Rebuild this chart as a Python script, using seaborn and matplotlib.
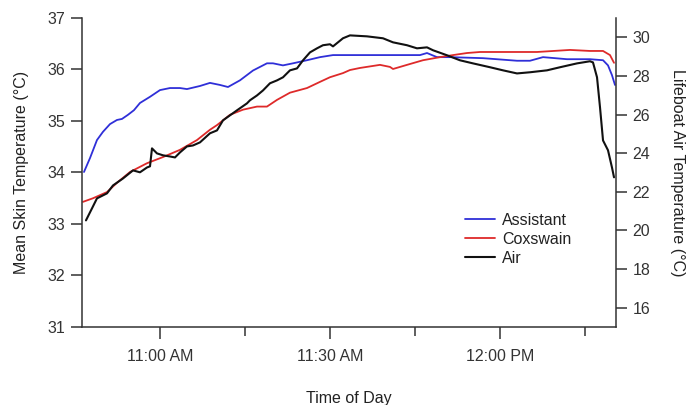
import matplotlib
matplotlib.use("Agg")
import matplotlib.pyplot as plt
import seaborn as sns
import pandas as pd

# ---- data (minutes after 11:00 AM) ----
assistant_t = [-13.41, -12.35, -11.12, -10.06, -8.82, -7.59, -6.71, -5.65, -4.59, -3.53,
               -1.76, 0.0, 1.76, 3.53, 4.76, 7.06, 8.82, 10.59, 12.0, 14.12,
               16.41, 18.88, 19.94, 21.70, 23.47, 25.94, 28.24, 30.53, 33.0, 38.82,
               45.88, 47.12, 48.88, 51.18, 57.0, 63.0, 65.29, 67.59, 71.82, 75.88,
               78.18, 79.06, 79.76, 80.29]
assistant_v = [34.01, 34.28, 34.63, 34.79, 34.94, 35.02, 35.04, 35.12, 35.21, 35.35,
               35.47, 35.60, 35.64, 35.64, 35.62, 35.68, 35.74, 35.70, 35.66, 35.79,
               35.98, 36.12, 36.12, 36.08, 36.12, 36.18, 36.24, 36.28, 36.28, 36.28,
               36.28, 36.32, 36.24, 36.24, 36.22, 36.17, 36.17, 36.24, 36.20, 36.20,
               36.18, 36.08, 35.89, 35.70]

coxswain_t = [-13.59, -11.82, -9.35, -7.59, -5.29, -2.29, 0.53, 3.53, 6.53, 8.82,
              10.06, 12.35, 14.65, 17.12, 18.88, 20.65, 22.94, 25.94, 28.24, 30.0,
              32.29, 33.53, 35.29, 38.82, 40.59, 41.12, 43.59, 46.41, 49.41, 51.71,
              54.18, 56.47, 60.53, 66.53, 72.35, 75.88, 78.18, 79.41, 80.12]
coxswain_v = [33.43, 33.50, 33.62, 33.80, 34.01, 34.18, 34.30, 34.44, 34.63, 34.83,
              34.92, 35.12, 35.22, 35.28, 35.28, 35.41, 35.55, 35.64, 35.76, 35.85,
              35.93, 35.99, 36.03, 36.09, 36.05, 36.01, 36.09, 36.18, 36.24, 36.28,
              36.32, 36.34, 36.34, 36.34, 36.38, 36.36, 36.36, 36.28, 36.13]

air_t = [-13.06, -12.0, -11.12, -9.35, -8.29, -6.53, -4.76, -3.53, -2.29, -1.76,
         -1.41, -0.53, 0.53, 1.76, 2.65, 3.53, 4.76, 5.82, 7.06, 8.82,
         10.06, 11.12, 12.35, 13.59, 15.35, 15.88, 17.12, 18.18, 19.41, 20.65,
         21.71, 22.94, 24.18, 25.24, 26.47, 27.71, 28.76, 30.0, 30.53, 32.29,
         33.53, 36.53, 39.35, 41.12, 43.59, 45.35, 47.12, 48.18, 50.65, 52.94,
         55.24, 58.24, 60.53, 63.0, 65.29, 68.29, 70.59, 73.59, 75.88, 76.41,
         77.12, 77.65, 78.18, 79.06, 79.76, 80.12]
air_v = [20.52, 21.14, 21.66, 21.92, 22.33, 22.69, 23.11, 23.01, 23.26, 23.32,
         24.25, 23.99, 23.89, 23.83, 23.78, 24.04, 24.35, 24.40, 24.56, 25.03,
         25.18, 25.70, 25.96, 26.22, 26.58, 26.74, 26.99, 27.25, 27.62, 27.77,
         27.93, 28.29, 28.39, 28.81, 29.22, 29.43, 29.59, 29.64, 29.53, 29.95,
         30.10, 30.05, 29.95, 29.74, 29.59, 29.43, 29.48, 29.33, 29.07, 28.81,
         28.65, 28.45, 28.29, 28.13, 28.19, 28.29, 28.45, 28.65, 28.76, 28.70,
         27.93, 26.37, 24.66, 24.15, 23.26, 22.75]

x_major_ticks = [0, 30, 60]
x_major_labels = ["11:00 AM", "11:30 AM", "12:00 PM"]
x_minor_ticks = [15, 45, 75]
left_ticks = [31, 32, 33, 34, 35, 36, 37]
right_ticks = [16, 18, 20, 22, 24, 26, 28, 30]

series_names = ["Assistant", "Coxswain", "Air"]
colors = {"Assistant": "#2f2fd8", "Coxswain": "#de2a2a", "Air": "#111111"}

df_a = pd.DataFrame({"t": assistant_t, "v": assistant_v})
df_c = pd.DataFrame({"t": coxswain_t, "v": coxswain_v})
df_air = pd.DataFrame({"t": air_t, "v": air_v})

FS = 11.5

# ---- style ----
sns.set_style("ticks")
plt.rcParams["font.family"] = ["Liberation Sans", "DejaVu Sans"]
plt.rcParams["font.size"] = FS
plt.rcParams["axes.linewidth"] = 1.1
plt.rcParams["text.color"] = "#222222"
plt.rcParams["axes.labelcolor"] = "#222222"
plt.rcParams["xtick.color"] = "#333333"
plt.rcParams["ytick.color"] = "#333333"
plt.rcParams["axes.edgecolor"] = "#333333"

fig = plt.figure(figsize=(6.97, 4.05), dpi=100)
ax = fig.add_axes([82 / 697, 1 - 327 / 405, (616 - 82) / 697, (327 - 18) / 405])
ax2 = ax.twinx()

sns.lineplot(data=df_a, x="t", y="v", ax=ax, color=colors["Assistant"], lw=1.3,
             estimator=None, label=series_names[0], legend=False)
sns.lineplot(data=df_c, x="t", y="v", ax=ax, color=colors["Coxswain"], lw=1.3,
             estimator=None, label=series_names[1], legend=False)
sns.lineplot(data=df_air, x="t", y="v", ax=ax2, color=colors["Air"], lw=1.5,
             estimator=None, label=series_names[2], legend=False)

ax.set_xlim(-13.76, 80.47)
ax.set_ylim(31, 37)
ax2.set_ylim(15, 31)

ax.set_xticks(x_major_ticks)
ax.set_xticklabels(x_major_labels)
ax.set_xticks(x_minor_ticks, minor=True)
ax.set_yticks(left_ticks)
ax2.set_yticks(right_ticks)

ax.tick_params(axis="x", which="major", length=8.5, width=1.1, pad=7, labelsize=FS)
ax.tick_params(axis="x", which="minor", length=6.5, width=1.1)
ax.tick_params(axis="y", length=8, width=1.1, pad=4, labelsize=FS)
ax2.tick_params(axis="y", length=8, width=1.1, pad=4, labelsize=FS)

for a in (ax, ax2):
    a.spines["top"].set_visible(False)
ax.spines["right"].set_visible(False)
ax2.spines["left"].set_visible(False)
ax2.spines["bottom"].set_visible(False)

ax.set_xlabel("Time of Day", labelpad=20, fontsize=FS)
ax.set_ylabel("Mean Skin Temperature (\u00b0C)", labelpad=13, fontsize=FS)
ax2.set_ylabel("Lifeboat Air Temperature (\u00b0C)", labelpad=14, fontsize=FS,
               rotation=270, va="bottom")

handles = ax.get_lines()[:2] + ax2.get_lines()[:1]
ax2.legend(handles, series_names, loc="upper left", bbox_to_anchor=(0.706, 0.39),
           frameon=False, fontsize=FS, handlelength=1.85, handletextpad=0.45,
           labelspacing=0.25, borderaxespad=0)

fig.savefig("out.png", dpi=100)
